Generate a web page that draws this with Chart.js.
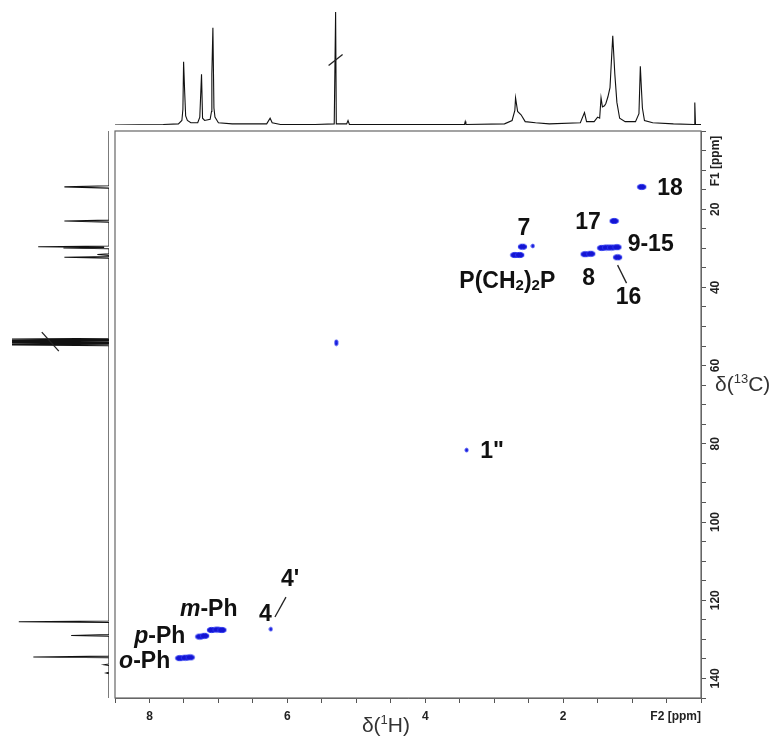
<!DOCTYPE html>
<html>
<head>
<meta charset="utf-8">
<script src="https://cdn.jsdelivr.net/npm/chart.js@4.4.1/dist/chart.umd.min.js"></script>
<style>
    html, body { margin: 0; padding: 0; background: #fff; }
    #wrap { position: relative; width: 773px; height: 740px; }
    canvas { position: absolute; left: 0; top: 0; }
</style>
</head>
<body>
<div id="wrap">
    <canvas id="main" width="773" height="740"></canvas>
    <canvas id="top" width="773" height="131"></canvas>
    <canvas id="left" width="115" height="740"></canvas>
</div>
<script>
// --- data ---

// 1H projection (F2), shift in ppm and relative height
const hShift = [8.50, 7.80, 7.58, 7.53, 7.515, 7.505, 7.49, 7.475, 7.45, 7.40, 7.30, 7.27, 7.245, 7.23, 7.20, 7.12, 7.10,
    7.095, 7.08, 7.065, 7.05, 7.02, 7.00, 6.80, 6.30, 6.25, 6.22, 6.10, 5.60, 5.32, 5.30, 5.29, 5.14, 5.12, 5.10, 3.43, 3.42,
    3.41, 2.85, 2.74, 2.70, 2.69, 2.66, 2.61, 2.55, 2.40, 2.20, 1.75, 1.69, 1.66, 1.55, 1.50, 1.47, 1.45, 1.43, 1.40, 1.38,
    1.35, 1.32, 1.28, 1.25, 1.22, 1.18, 1.10, 0.95, 0.90, 0.88, 0.865, 0.85, 0.82, 0.70, 0.40, 0.10, 0.09, 0.08, 0.00];
const hInt = [0.00, 0.005, 0.01, 0.04, 0.14, 0.56, 0.30, 0.08, 0.04, 0.02, 0.02, 0.07, 0.45, 0.06, 0.04, 0.05, 0.12,
    0.45, 0.86, 0.15, 0.07, 0.04, 0.02, 0.01, 0.01, 0.06, 0.02, 0.005, 0.005, 0.01, 1.00, 0.01, 0.01, 0.04, 0.005, 0.005, 0.03,
    0.005, 0.01, 0.04, 0.13, 0.24, 0.12, 0.09, 0.03, 0.02, 0.01, 0.02, 0.11, 0.03, 0.03, 0.07, 0.06, 0.24, 0.16, 0.17, 0.19,
    0.25, 0.33, 0.79, 0.45, 0.20, 0.06, 0.03, 0.03, 0.10, 0.52, 0.33, 0.15, 0.04, 0.02, 0.01, 0.005, 0.20, 0.005, 0.005];

// 13C projection (F1), shift in ppm and relative height
const cShift = [0, 3, 14.0, 14.3, 14.6, 22.8, 23.0, 23.3, 29.4, 29.6, 29.75, 29.9, 30.1, 31.4, 31.6, 31.8, 32.1, 32.3, 32.5,
    53.0, 53.2, 53.35, 53.5, 53.65, 53.8, 53.95, 54.1, 54.25, 54.4, 54.55, 54.7, 54.9,
    125.3, 125.5, 125.7, 128.8, 129.0, 129.2, 134.3, 134.5, 134.7, 136.3, 136.5, 136.7, 138.4, 138.6, 138.8, 145];
const cInt = [0, 0, 0, 0.46, 0, 0, 0.46, 0, 0, 0.73, 0.05, 0.47, 0, 0, 0.12, 0, 0, 0.46, 0,
    0, 1.0, 0, 1.0, 0, 1.0, 0, 1.0, 0, 1.0, 0, 1.0, 0,
    0, 0.93, 0, 0, 0.39, 0, 0, 0.78, 0, 0, 0.05, 0, 0, 0.03, 0, 0];

// HSQC cross peaks (F2 1H ppm, F1 13C ppm)
const peakH = [0.86, 1.26, 1.44, 1.37, 1.30, 1.22, 1.21, 1.68, 1.60, 2.59, 2.70, 2.63,
    7.10, 7.02, 6.95, 7.27, 7.20, 7.56, 7.48, 7.41];
const peakC = [14.3, 23.0, 29.9, 29.8, 29.8, 29.7, 32.3, 31.5, 31.4, 29.6, 31.7, 31.7,
    127.6, 127.5, 127.6, 129.3, 129.1, 134.8, 134.7, 134.6];
const weakH = [2.44, 3.40, 6.24, 5.29, 5.29];
const weakC = [29.4, 81.6, 127.4, 53.9, 54.4];

// assignment labels, centred at (F2, F1)
const labelText = ['18', '17', '7', '9-15', 'P(CH2)2P', '8', '16', '1"', 'm-Ph', 'p-Ph', 'o-Ph', '4', "4'"];
const labelH = [0.45, 1.64, 2.57, 0.73, 2.81, 1.63, 1.05, 3.03, 7.14, 7.85, 8.07, 6.32, 5.96];
const labelC = [14.3, 23.0, 24.6, 28.6, 38.1, 37.3, 42.2, 81.6, 122.0, 128.9, 135.3, 123.3, 114.3];

// leader lines for 16 and 4'
const leadH1 = [1.21, 6.18];
const leadC1 = [34.3, 124.3];
const leadH2 = [1.08, 6.02];
const leadC2 = [38.9, 119.2];

const xTickLabels = [8, 6, 4, 2];
const yTickLabels = [20, 40, 60, 80, 100, 120, 140];

// --- helpers ---
const FONT = '"Liberation Sans", Arial, sans-serif';

function makeBlob(rx, ry) {
    const c = document.createElement('canvas');
    c.width = Math.ceil(rx * 2 + 2);
    c.height = Math.ceil(ry * 2 + 2);
    const g = c.getContext('2d');
    g.beginPath();
    g.ellipse(c.width / 2, c.height / 2, rx, ry, 0, 0, Math.PI * 2);
    g.fillStyle = '#1414d2';
    g.fill();
    g.lineWidth = 1;
    g.strokeStyle = '#2a36f0';
    g.stroke();
    return c;
}

const blobBig = makeBlob(4.2, 2.6);
const blobSmall = makeBlob(1.5, 1.8);

function toPoints(xs, ys) {
    return xs.map((x, i) => ({ x, y: ys[i] }));
}

// draw a label, with italic prefix for m/p/o-Ph and subscripts in P(CH2)2P
function drawLabel(ctx, text, x, y) {
    let parts;
    if (/^[mpo]-Ph$/.test(text)) {
        parts = [{ t: text[0], f: 'italic bold 23px ' + FONT }, { t: text.slice(1), f: 'bold 23px ' + FONT }];
    } else if (text.indexOf('(CH') >= 0) {
        parts = [
            { t: 'P(CH', f: 'bold 23px ' + FONT },
            { t: '2', f: 'bold 15px ' + FONT, dy: 2 },
            { t: ')', f: 'bold 23px ' + FONT },
            { t: '2', f: 'bold 15px ' + FONT, dy: 2 },
            { t: 'P', f: 'bold 23px ' + FONT }
        ];
    } else {
        parts = [{ t: text, f: 'bold 23px ' + FONT }];
    }
    let w = 0;
    parts.forEach(p => { ctx.font = p.f; p.w = ctx.measureText(p.t).width; w += p.w; });
    let cx = x - w / 2;
    ctx.fillStyle = '#111';
    ctx.textAlign = 'left';
    ctx.textBaseline = 'alphabetic';
    parts.forEach(p => {
        ctx.font = p.f;
        ctx.fillText(p.t, cx, y + 8 + (p.dy || 0));
        cx += p.w;
    });
}

// text with a raised part, e.g. delta(1H)
function drawSup(ctx, pieces, x, y, align) {
    let w = 0;
    pieces.forEach(p => { ctx.font = p.f; p.w = ctx.measureText(p.t).width; w += p.w; });
    let cx = align === 'center' ? x - w / 2 : x;
    ctx.fillStyle = '#333';
    ctx.textAlign = 'left';
    ctx.textBaseline = 'alphabetic';
    pieces.forEach(p => {
        ctx.font = p.f;
        ctx.fillText(p.t, cx, y - (p.up || 0));
        cx += p.w;
    });
}

const decorPlugin = {
    id: 'decor',
    afterDraw(chart) {
        const ctx = chart.ctx;
        const a = chart.chartArea;
        const xs = chart.scales.x;
        const ys = chart.scales.y;
        ctx.save();

        // frame
        ctx.strokeStyle = '#666';
        ctx.lineWidth = 1.2;
        ctx.strokeRect(a.left, a.top, a.right - a.left, a.bottom - a.top);

        // x tick labels
        ctx.fillStyle = '#222';
        ctx.font = 'bold 12px ' + FONT;
        ctx.textAlign = 'center';
        ctx.textBaseline = 'middle';
        xTickLabels.forEach(v => ctx.fillText(String(v), xs.getPixelForValue(v), a.bottom + 19));
        ctx.textAlign = 'right';
        ctx.fillText('F2 [ppm]', a.right, a.bottom + 19);

        // y tick labels, rotated
        yTickLabels.forEach(v => {
            ctx.save();
            ctx.translate(a.right + 15, ys.getPixelForValue(v));
            ctx.rotate(-Math.PI / 2);
            ctx.textAlign = 'center';
            ctx.fillText(String(v), 0, 0);
            ctx.restore();
        });
        ctx.save();
        ctx.translate(a.right + 15, a.top + 30);
        ctx.rotate(-Math.PI / 2);
        ctx.textAlign = 'center';
        ctx.fillText('F1 [ppm]', 0, 0);
        ctx.restore();

        // axis titles
        drawSup(ctx, [
            { t: '\u03b4(', f: '21px ' + FONT },
            { t: '1', f: '13px ' + FONT, up: 8 },
            { t: 'H)', f: '21px ' + FONT }
        ], xs.getPixelForValue(4.57), a.bottom + 34, 'center');
        drawSup(ctx, [
            { t: '\u03b4(', f: '21px ' + FONT },
            { t: '13', f: '13px ' + FONT, up: 8 },
            { t: 'C)', f: '21px ' + FONT }
        ], a.right + 14, ys.getPixelForValue(64.5) + 8, 'left');

        // assignment labels
        labelText.forEach((t, i) => {
            drawLabel(ctx, t, xs.getPixelForValue(labelH[i]), ys.getPixelForValue(labelC[i]));
        });

        // leader lines
        ctx.strokeStyle = '#222';
        ctx.lineWidth = 1.3;
        leadH1.forEach((h, i) => {
            ctx.beginPath();
            ctx.moveTo(xs.getPixelForValue(h), ys.getPixelForValue(leadC1[i]));
            ctx.lineTo(xs.getPixelForValue(leadH2[i]), ys.getPixelForValue(leadC2[i]));
            ctx.stroke();
        });
        ctx.restore();
    }
};

// slash mark across the clipped solvent line
function breakPlugin(vertical) {
    return {
        id: 'brk',
        afterDatasetsDraw(chart) {
            const ctx = chart.ctx;
            const ds = chart.data.datasets[0].data;
            let best = ds[0];
            ds.forEach(p => { if ((vertical ? p.x : p.y) > (vertical ? best.x : best.y)) best = p; });
            ctx.save();
            ctx.strokeStyle = '#222';
            ctx.lineWidth = 1.3;
            ctx.beginPath();
            if (vertical) {
                const x = chart.scales.x.getPixelForValue(0.6);
                const y = chart.scales.y.getPixelForValue(54);
                ctx.moveTo(x - 9, y - 10);
                ctx.lineTo(x + 8, y + 9);
            } else {
                const x = chart.scales.x.getPixelForValue(best.x);
                const y = chart.scales.y.getPixelForValue(0.58);
                ctx.moveTo(x - 7, y + 6);
                ctx.lineTo(x + 7, y - 5);
            }
            ctx.stroke();
            ctx.restore();
        }
    };
}

// --- main HSQC map ---
new Chart(document.getElementById('main'), {
    type: 'scatter',
    data: {
        datasets: [
            { data: toPoints(peakH, peakC), pointStyle: blobBig, pointRadius: 5 },
            { data: toPoints(weakH, weakC), pointStyle: blobSmall, pointRadius: 2 }
        ]
    },
    options: {
        responsive: false,
        devicePixelRatio: 1,
        animation: false,
        layout: { padding: { left: 115, top: 131, right: 0, bottom: 0 } },
        plugins: { legend: { display: false }, tooltip: { enabled: false } },
        scales: {
            x: {
                type: 'linear',
                position: 'bottom',
                min: 0,
                max: 8.5,
                reverse: true,
                ticks: { stepSize: 0.5, display: false },
                grid: { drawOnChartArea: false, drawTicks: true, tickLength: 5, tickColor: '#555', lineWidth: 1 },
                border: { display: true, color: '#666' },
                afterFit: s => { s.height = 42; }
            },
            y: {
                type: 'linear',
                position: 'right',
                min: 0,
                max: 145,
                reverse: true,
                ticks: { stepSize: 5, display: false },
                grid: { drawOnChartArea: false, drawTicks: true, tickLength: 5, tickColor: '#555', lineWidth: 1 },
                border: { display: true, color: '#666' },
                afterFit: s => { s.width = 72; }
            }
        }
    },
    plugins: [decorPlugin]
});

// --- 1H projection on top ---
new Chart(document.getElementById('top'), {
    type: 'scatter',
    data: {
        datasets: [{
            data: toPoints(hShift, hInt),
            showLine: true,
            pointRadius: 0,
            borderColor: '#111',
            borderWidth: 1.1
        }]
    },
    options: {
        responsive: false,
        devicePixelRatio: 1,
        animation: false,
        layout: { padding: { left: 115, right: 72, top: 12, bottom: 6 } },
        plugins: { legend: { display: false }, tooltip: { enabled: false } },
        scales: {
            x: { type: 'linear', min: 0, max: 8.5, reverse: true, display: false },
            y: { type: 'linear', min: 0, max: 1, display: false }
        }
    },
    plugins: [breakPlugin(false)]
});

// --- 13C projection on the left ---
new Chart(document.getElementById('left'), {
    type: 'scatter',
    data: {
        datasets: [{
            data: toPoints(cInt, cShift),
            showLine: true,
            pointRadius: 0,
            borderColor: '#111',
            borderWidth: 1.1
        }]
    },
    options: {
        responsive: false,
        devicePixelRatio: 1,
        animation: false,
        layout: { padding: { left: 12, right: 6, top: 131, bottom: 42 } },
        plugins: { legend: { display: false }, tooltip: { enabled: false } },
        scales: {
            x: { type: 'linear', min: 0, max: 1, reverse: true, display: false },
            y: { type: 'linear', min: 0, max: 145, reverse: true, display: false }
        }
    },
    plugins: [breakPlugin(true)]
});
</script>
</body>
</html>
